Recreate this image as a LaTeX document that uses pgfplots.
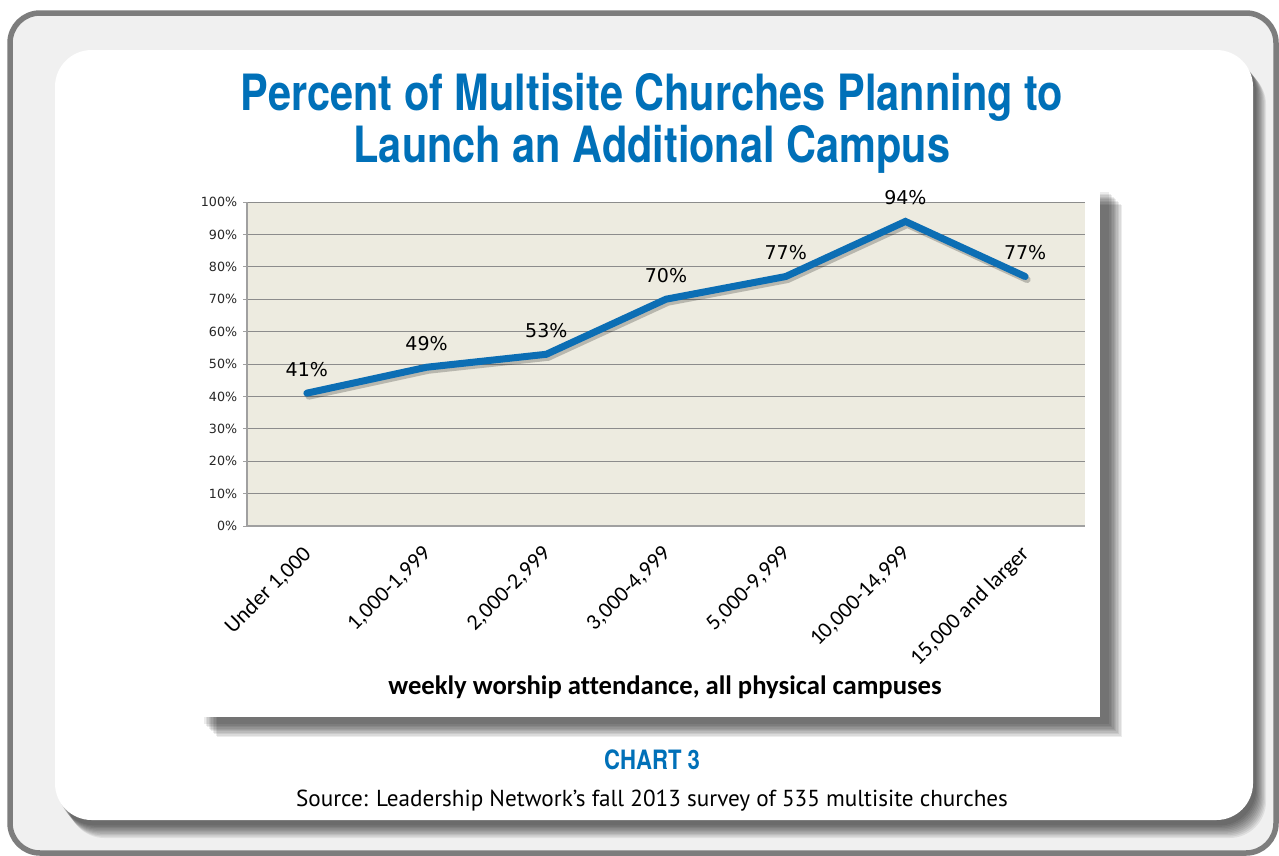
\documentclass[border=0pt]{standalone}
\usepackage{fontspec}
\setmainfont{Carlito}[Ligatures=NoCommon]
\newfontfamily\titlefont{TeX Gyre Heros}[FakeStretch=0.83]
\newfontfamily\tickfont{DejaVu Sans}
\newfontfamily\srcfont{PT Sans}
\usepackage{pgfplots}
\pgfplotsset{compat=1.18}

\definecolor{titleblue}{RGB}{0,112,184}
\definecolor{lineblue}{RGB}{12,110,180}
\definecolor{plotbg}{RGB}{237,235,224}
\definecolor{gridgray}{RGB}{140,140,140}
\definecolor{axisgray}{RGB}{160,160,160}
\definecolor{framegray}{RGB}{125,125,125}
\definecolor{bggray}{RGB}{240,240,240}

\begin{document}
\begin{tikzpicture}[x=0.6pt,y=-0.6pt]
\useasboundingbox (0,0) rectangle (1279,855);
\fill[white] (0,0) rectangle (1279,855);
\begin{scope}
\clip (0,0) rectangle (1279,855);
% outer frame
\draw[framegray, line width=3.3pt, fill=bggray, rounded corners=18pt] (10,13) rectangle (1276,853);
% panel shadow
\foreach \k in {1,...,10}
  \fill[black, opacity=0.075, rounded corners=22pt, shift={(2+\k*1.1,4+\k*1.4)}] (55,50) rectangle (1253,820);
\fill[white, rounded corners=22pt] (55,50) rectangle (1253,820);
% chart box shadow
\foreach \k in {1,...,10}
  \fill[black, opacity=0.075, shift={(8+\k*1.4,6+\k*1.4)}] (195,185) rectangle (1100,717);
\fill[white] (190,185) rectangle (1100,717);
\end{scope}

% titles
\node[anchor=base, text=titleblue, font=\titlefont\bfseries\fontsize{30}{36}\selectfont] at (652,110) {Percent of Multisite Churches Planning to};
\node[anchor=base, text=titleblue, font=\titlefont\bfseries\fontsize{30}{36}\selectfont] at (652,162) {Launch an Additional Campus};

\begin{axis}[
  at={(148.2pt,-315.6pt)}, anchor=south west,
  scale only axis, width=502.8pt, height=194.4pt,
  xmin=-0.5, xmax=6.5, ymin=0, ymax=100,
  axis x line=bottom, axis y line=left,
  axis line style={-, draw=axisgray, line width=1pt},
  axis background/.style={fill=plotbg},
  ytick={0,10,...,100},
  yticklabels={0\%,10\%,20\%,30\%,40\%,50\%,60\%,70\%,80\%,90\%,100\%},
  ymajorgrids, major grid style={draw=gridgray, line width=0.6pt},
  tick align=outside, major tick length=2.4pt,
  ytick style={draw=axisgray, line width=0.6pt},
  xtick={0,...,6},
  xticklabels={{Under 1,000},{1,000-1,999},{2,000-2,999},{3,000-4,999},{5,000-9,999},{10,000-14,999},{15,000 and larger}},
  xtick style={draw=none},
  yticklabel style={font=\tickfont\fontsize{7.6}{9}\selectfont, text=black!85},
  xticklabel style={font=\fontsize{13.3}{16}\selectfont, xshift=3pt, yshift=-10pt, rotate=45, anchor=east},
  nodes near coords={\pgfmathprintnumber[assume math mode=true]{\pgfplotspointmeta}\%},
  every node near coord/.append style={font=\tickfont\fontsize{11.4}{13}\selectfont, text=black, anchor=south, inner sep=0pt, yshift=8pt},
  clip=false,
]
\addplot[black, opacity=0.22, line width=4.2pt, line cap=round, shift={(1.2pt,-1.8pt)}, nodes near coords={}] coordinates {(0,41) (1,49) (2,53) (3,70) (4,77) (5,94) (6,77)};
\addplot[lineblue, line width=4.2pt, line cap=round] coordinates {(0,41) (1,49) (2,53) (3,70) (4,77) (5,94) (6,77)};
\end{axis}

\node[anchor=base, font=\bfseries\fontsize{16}{19}\selectfont] at (665,694) {weekly worship attendance, all physical campuses};
\node[anchor=base, text=titleblue, font=\titlefont\bfseries\fontsize{16}{19}\selectfont] at (652,769) {CHART 3};
\node[anchor=base, font=\srcfont\fontsize{13.9}{16}\selectfont] at (652,806) {Source: Leadership Network’s fall 2013 survey of 535 multisite churches};
\end{tikzpicture}
\end{document}
